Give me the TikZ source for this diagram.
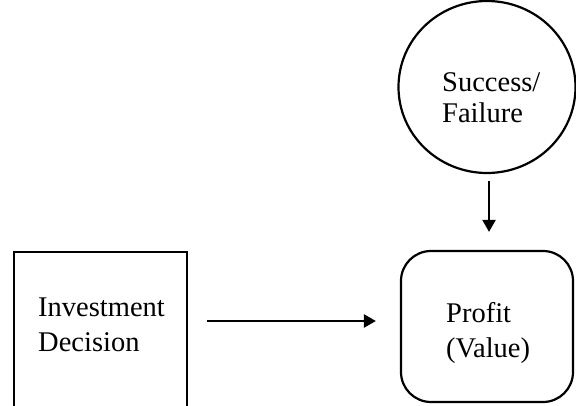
\documentclass[tikz,border=0pt]{standalone}
\usepackage{fontspec}
\setmainfont{Liberation Serif}
\usetikzlibrary{shapes.geometric,arrows.meta}
\begin{document}
\begin{tikzpicture}[x=1pt,y=-1pt,
  box/.style={draw,line width=2.2pt,inner sep=0pt},
  lbl/.style={font=\fontsize{28.5}{35}\selectfont,align=left,inner sep=0pt,anchor=base west},
  conn/.style={line width=2.2pt,-{Triangle[length=12pt,width=13pt]}}]
\useasboundingbox (0,0) rectangle (576,406);
\clip (0,0) rectangle (576,406);
\node[box,rectangle,minimum width=173pt,minimum height=190pt,anchor=north west] (inv) at (13,251) {};
\node[box,ellipse,minimum width=177pt,minimum height=172pt] (sf) at (487,87) {};
\node[box,rectangle,rounded corners=30pt,minimum width=172pt,minimum height=151pt] (pv) at (487,326.5) {};
\node[lbl] (invt) at (38,351) {Investment\\Decision};
\node[lbl,font=\fontsize{28.5}{31}\selectfont] (sft) at (442,123) {Success/\\Failure};
\node[lbl] (pvt) at (446,357) {Profit\\(Value)};
\coordinate (hy) at (0,321);
\draw[conn,shorten <=19pt,shorten >=24pt] (inv.east |- hy) -- (pv.west |- hy);
\draw[conn,shorten <=7pt,shorten >=18pt] ([xshift=2pt]sf.south) -- ([xshift=2pt]sf.south |- pv.north);
\end{tikzpicture}
\end{document}
